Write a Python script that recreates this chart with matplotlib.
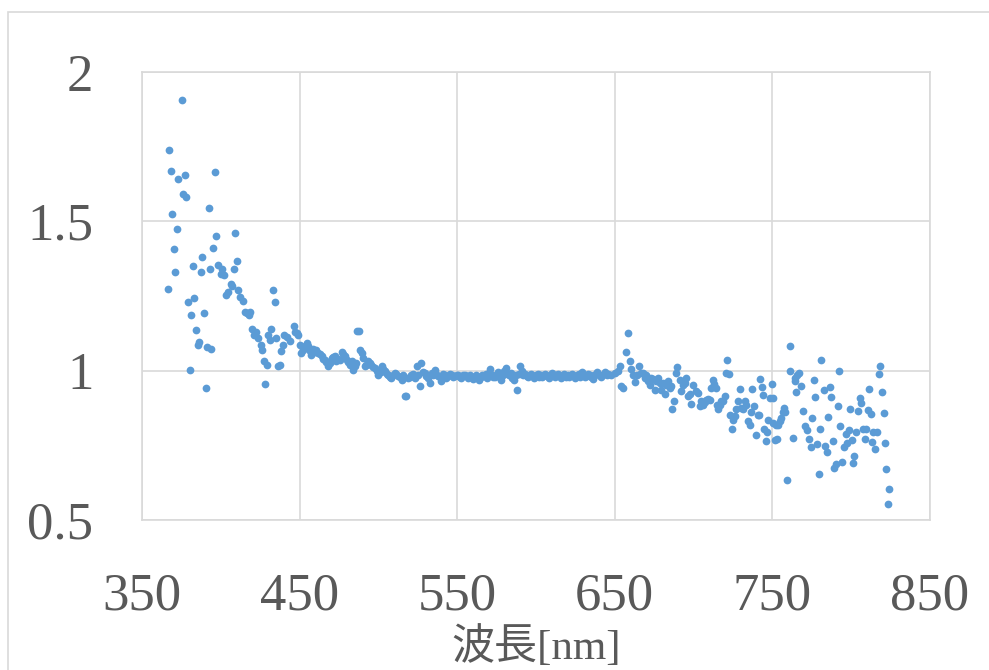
#-*-coding:utf-8-*-
import numpy as np
import matplotlib
matplotlib.use("Agg")
import matplotlib.pyplot as plt
from matplotlib.patches import Rectangle

#wavelength[nm] and ratio
wavelength = [
    366.3, 367.3, 368.2, 369.2, 370.3, 370.9, 372.0, 373.0, 375.2, 375.8,
    377.0, 377.9, 379.0, 380.2, 381.1, 382.1, 383.2, 384.2, 385.3, 386.1,
    387.2, 388.2, 389.1, 390.4, 391.0, 392.3, 393.3, 394.0, 395.0, 396.0,
    397.1, 398.0, 400.1, 400.5, 402.0, 403.1, 404.7, 406.2, 406.9, 408.3,
    409.2, 410.2, 411.0, 412.1, 413.9, 415.3, 416.6, 417.9, 418.5, 420.0,
    421.0, 422.3, 423.7, 425.3, 426.1, 427.2, 428.2, 429.1, 430.1, 431.2,
    432.0, 433.1, 434.1, 435.0, 436.2, 437.3, 438.1, 439.2, 440.2, 441.8,
    443.8, 446.2, 447.2, 448.1, 449.1, 450.2, 451.2, 452.2, 453.3, 454.4,
    455.5, 456.3, 457.2, 458.6, 459.6, 460.7, 461.8, 462.8, 463.9, 465.0,
    466.0, 467.0, 468.1, 469.2, 470.3, 471.4, 472.4, 473.4, 474.4, 475.5,
    476.6, 477.6, 478.7, 479.8, 480.8, 481.9, 483.0, 484.0, 485.0, 486.1,
    486.7, 487.6, 488.2, 489.3, 490.3, 491.4, 492.4, 493.5, 494.5, 495.6,
    496.6, 497.7, 498.8, 499.9, 500.9, 501.8, 502.4, 503.2, 504.1, 505.2,
    506.2, 507.2, 508.3, 509.4, 510.4, 511.4, 512.5, 513.6, 514.7, 515.7,
    516.8, 517.8, 518.9, 519.9, 521.0, 522.1, 523.1, 524.2, 525.2, 526.3,
    527.3, 528.4, 529.5, 530.5, 531.5, 532.6, 533.7, 534.7, 535.8, 536.8,
    537.9, 538.9, 540.0, 541.0, 542.1, 543.2, 544.3, 545.3, 546.4, 547.4,
    548.5, 549.6, 550.6, 551.6, 552.7, 553.7, 554.8,
    556, 557, 558, 559, 560, 561, 562, 563, 564, 565,
    566, 567, 568, 569, 570, 571, 572, 573, 574, 575,
    576, 577, 578, 579, 580, 581, 582, 583, 584, 585,
    586, 587, 588, 589, 590, 591, 592, 593, 594, 595,
    596, 597, 598, 599, 600, 601, 602, 603, 604, 605,
    606, 607, 608, 609, 610, 611, 612, 613, 614, 615,
    616, 617, 618, 619, 620, 621, 622, 623, 624, 625,
    626, 627, 628, 629, 630, 631, 632, 633, 634, 635,
    636, 637, 638, 639, 640, 641, 642, 643, 644, 645, 646,
    647.9, 650.0, 652.1, 653.2, 654.0, 655.5, 657.4, 658.4, 659.5, 660.5,
    661.6, 662.7, 663.8, 665.4, 666.5, 667.9, 669.0, 670.0, 671.1, 672.2,
    673.2, 674.3, 675.3, 676.4, 677.5, 678.5, 679.6, 680.6, 681.7, 682.7,
    683.8, 684.9, 685.7, 686.5, 687.6, 688.7, 689.5, 691.2, 692.3, 693.3,
    694.4, 695.4, 696.5, 697.5, 698.6, 699.7, 701.3, 702.8, 703.9, 705.0,
    706.0, 707.0, 708.1, 709.2, 710.2, 711.3, 712.3, 713.2, 714.0, 714.6,
    715.5, 716.6, 717.6, 718.7, 719.7, 720.8, 721.2, 722.5, 723.3, 724.6,
    725.0, 726.1, 727.2, 728.2, 729.3, 730.3, 731.4, 732.4, 733.5, 734.5,
    735.6, 736.5, 737.3, 738.1, 739.8, 740.6, 741.3, 742.4, 743.4, 744.3,
    745.0, 745.8, 746.7, 747.5, 748.2, 749.5, 750.3, 750.6, 751.8, 752.4,
    753.1, 753.5, 754.6, 755.6, 756.5, 757.3, 758.2, 759.2, 761.3, 761.5,
    763.4, 764.1, 764.5, 765.3, 765.6, 767.2, 768.3, 769.4, 770.4, 772.1,
    773.0, 774.2, 775.1, 776.3, 777.2, 778.2, 779.3, 780.4, 781.0, 782.5,
    783.1, 784.4, 785.2, 786.3, 787.3, 788.4, 789.4, 790.5, 791.6, 792.4,
    793.2, 794.3, 795.4, 796.8, 797.3, 798.5, 799.4, 800.4, 801.3, 802.1,
    803.2, 804.2, 805.3, 806.4, 807.4, 808.5, 809.5, 810.6, 811.4, 812.7,
    813.3, 813.8, 815.4, 816.5, 817.6, 818.6, 819.5, 820.7, 821.2, 822.2,
    823.3, 824.3,
]
ratio = [
    1.275, 1.739, 1.667, 1.526, 1.408, 1.332, 1.475, 1.643, 1.906, 1.593,
    1.655, 1.583, 1.230, 1.001, 1.187, 1.352, 1.242, 1.137, 1.087, 1.096,
    1.330, 1.381, 1.193, 0.943, 1.079, 1.545, 1.341, 1.073, 1.411, 1.664,
    1.452, 1.353, 1.325, 1.342, 1.322, 1.254, 1.263, 1.291, 1.285, 1.341,
    1.460, 1.368, 1.271, 1.245, 1.232, 1.198, 1.192, 1.187, 1.195, 1.141,
    1.120, 1.131, 1.109, 1.087, 1.068, 1.033, 0.956, 1.018, 1.118, 1.104,
    1.139, 1.271, 1.230, 1.109, 1.017, 1.018, 1.065, 1.087, 1.120, 1.113,
    1.098, 1.148, 1.131, 1.126, 1.120, 1.087, 1.059, 1.070, 1.081, 1.093,
    1.081, 1.065, 1.054, 1.072, 1.062, 1.070, 1.059, 1.055, 1.048, 1.040,
    1.035, 1.030, 1.014, 1.026, 1.042, 1.045, 1.048, 1.031, 1.038, 1.035,
    1.061, 1.055, 1.050, 1.037, 1.030, 1.020, 1.031, 1.003, 1.015, 1.026,
    1.134, 1.134, 1.070, 1.059, 1.042, 1.014, 1.020, 1.031, 1.025, 1.020,
    1.012, 1.009, 1.000, 0.987, 1.003, 0.995, 1.017, 1.005, 0.998, 0.990,
    0.987, 0.980, 0.975, 0.985, 0.992, 0.988, 0.981, 0.978, 0.970, 0.985,
    0.916, 0.916, 0.975, 0.980, 0.987, 0.990, 0.975, 1.014, 0.985, 0.948,
    1.026, 0.995, 0.992, 0.981, 0.975, 0.959, 0.992, 0.985, 1.003, 0.990,
    0.981, 0.978, 0.964, 0.990, 0.987, 0.975, 0.981, 0.990, 0.987, 0.980,
    0.981, 0.985, 0.987, 0.980, 0.975, 0.985, 0.987,
    0.982, 0.975, 0.985, 0.978, 0.972, 0.980, 0.984, 0.976, 0.970, 0.978,
    0.985, 0.982, 0.990, 0.975, 0.992, 1.006, 0.985, 0.980, 0.978, 0.990,
    0.995, 0.982, 0.970, 0.985, 1.000, 1.008, 0.990, 0.985, 0.992, 0.975,
    0.970, 0.985, 0.936, 0.990, 1.015, 1.000, 0.985, 0.990, 0.982, 0.978,
    0.985, 0.990, 0.982, 0.975, 0.985, 0.990, 0.980, 0.986, 0.978, 0.984,
    0.990, 0.982, 0.975, 0.985, 0.992, 0.984, 0.978, 0.985, 0.990, 0.982,
    0.976, 0.985, 0.990, 0.980, 0.985, 0.978, 0.984, 0.990, 0.983, 0.976,
    0.985, 0.990, 0.980, 0.994, 0.985, 0.978, 0.982, 0.990, 0.985, 0.978,
    0.972, 0.985, 0.990, 0.996, 0.985, 0.978, 0.984, 0.990, 0.995, 0.985, 0.990,
    0.987, 0.992, 0.998, 1.015, 0.950, 0.942, 1.062, 1.126, 1.034, 1.006,
    0.987, 0.961, 0.985, 1.017, 0.992, 0.992, 0.976, 0.985, 0.964, 0.953,
    0.975, 0.972, 0.936, 0.965, 0.976, 0.959, 0.936, 0.960, 0.923, 0.953,
    0.964, 0.942, 0.950, 0.872, 0.897, 0.992, 1.011, 0.970, 0.931, 0.953,
    0.960, 0.975, 0.914, 0.923, 0.889, 0.953, 0.931, 0.925, 0.883, 0.900,
    0.886, 0.895, 0.901, 0.905, 0.903, 0.942, 0.968, 0.955, 0.942, 0.886,
    0.872, 0.886, 0.900, 0.897, 0.916, 0.992, 1.037, 0.990, 0.853, 0.803,
    0.836, 0.847, 0.870, 0.897, 0.940, 0.875, 0.870, 0.897, 0.886, 0.831,
    0.819, 0.860, 0.940, 0.881, 0.786, 0.850, 0.853, 0.972, 0.945, 0.920,
    0.803, 0.764, 0.795, 0.835, 0.909, 0.956, 0.909, 0.824, 0.769, 0.819,
    0.772, 0.819, 0.831, 0.842, 0.860, 0.875, 0.861, 0.633, 1.084, 1.000,
    0.775, 0.976, 0.964, 0.928, 0.987, 0.992, 0.948, 0.864, 0.814, 0.800,
    0.771, 0.743, 0.842, 0.968, 0.911, 0.755, 0.654, 0.805, 1.035, 0.934,
    0.747, 0.728, 0.845, 0.945, 0.911, 0.766, 0.674, 0.688, 0.881, 0.998,
    0.816, 0.693, 0.745, 0.788, 0.758, 0.800, 0.870, 0.769, 0.691, 0.713,
    0.794, 0.866, 0.909, 0.892, 0.803, 0.771, 0.805, 0.869, 0.937, 0.856,
    0.760, 0.794, 0.738, 0.795, 0.990, 1.017, 0.929, 0.858, 0.758, 0.671,
    0.555, 0.605,
]

x_ticks = [350, 450, 550, 650, 750, 850]
y_ticks = [0.5, 1, 1.5, 2]
y_ticklabels = ["0.5", "1", "1.5", "2"]
x_label = "波長[nm]"

grid_color = "#d9d9d9"
text_color = "#595959"
dot_color = "#5b9bd5"

fig = plt.figure(figsize=(9.89, 6.70), dpi=100)
ax = fig.add_axes([0.1436, 0.2239, 0.7967, 0.6686])

ax.scatter(wavelength, ratio, s=31, color=dot_color, linewidths=0, zorder=3)

ax.set_xlim(350, 850)
ax.set_ylim(0.5, 2)
ax.set_xticks(x_ticks)
ax.set_yticks(y_ticks)
ax.set_yticklabels(y_ticklabels)
ax.grid(True, color=grid_color, linewidth=1.2, zorder=0)
ax.set_axisbelow(True)
for s in ax.spines.values():
    s.set_color(grid_color)
    s.set_linewidth(1.2)

ax.tick_params(length=0, labelsize=38, labelcolor=text_color)
ax.tick_params(axis="y", pad=35)
ax.tick_params(axis="x", pad=38)
for lab in ax.get_xticklabels() + ax.get_yticklabels():
    lab.set_family("Liberation Serif")

ax.set_xlabel(x_label, fontsize=31, color=text_color,
              family=["Liberation Serif", "Noto Sans CJK JP"], labelpad=4)

#chart outline
fig.patches.append(Rectangle((0.0076, -0.1), 1.1, 1.0825, transform=fig.transFigure,
                             fill=False, edgecolor=grid_color, linewidth=1.2))

plt.savefig("out.png", dpi=100)
